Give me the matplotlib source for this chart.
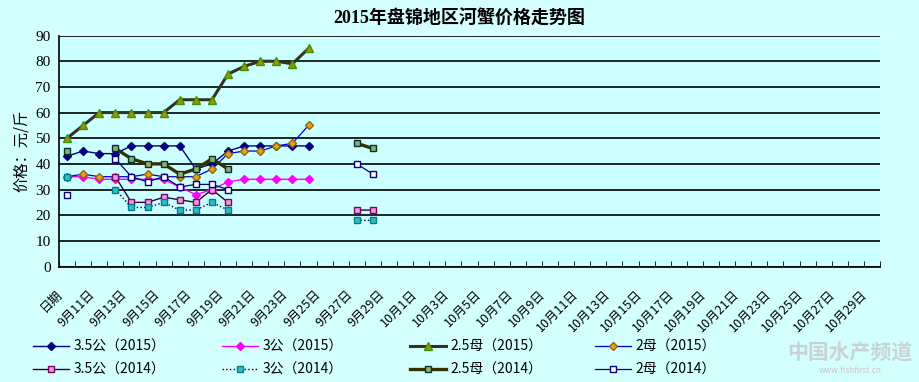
import numpy as np
import matplotlib
matplotlib.use("Agg")
import matplotlib.pyplot as plt
import matplotlib.transforms as mtransforms
from matplotlib.lines import Line2D

plt.rcParams['font.family'] = ['Noto Sans CJK SC', 'DejaVu Sans']

# categories: header cell + daily dates
categories = ['日期'] + [f'9月{d}日' for d in range(10, 31)] + [f'10月{d}日' for d in range(1, 30)]

# 2015 prices (yuan / jin), index 0..15
gong35_2015 = [43, 45, 44, 44, 47, 47, 47, 47, 38, 40, 45, 47, 47, 47, 47, 47]
gong3_2015 = [35, 35, 34, 34, 34, 34, 34, 31, 28, 30, 33, 34, 34, 34, 34, 34]
mu25_2015 = [50, 55, 60, 60, 60, 60, 60, 65, 65, 65, 75, 78, 80, 80, 79, 85]
mu2_2015 = [35, 36, 35, 35, 35, 36, 35, 35, 35, 38, 44, 45, 45, 47, 48, 55]

# 2014 prices, index 0..19 (None = no data)
n = None
gong35_2014 = [n, n, n, 35, 25, 25, 27, 26, 25, 30, 25, n, n, n, n, n, n, n, 22, 22]
gong3_2014 = [35, n, n, 30, 23, 23, 25, 22, 22, 25, 22, n, n, n, n, n, n, n, 18, 18]
mu25_2014 = [45, n, n, 46, 42, 40, 40, 36, 38, 42, 38, n, n, n, n, n, n, n, 48, 46]
mu2_2014 = [28, n, n, 42, 35, 33, 35, 31, 32, 32, 30, n, n, n, n, n, n, n, 40, 36]

labels = ['3.5公（2015）', '3公（2015）', '2.5母（2015）', '2母（2015）',
          '3.5公（2014）', '3公（2014）', '2.5母（2014）', '2母（2014）']


def arr(v):
    return np.array([np.nan if x is None else x for x in v], dtype=float)


bg = '#CCFFFF'
fig = plt.figure(figsize=(9.19, 3.82), dpi=100, facecolor='#D4FFFF')
ax = fig.add_axes([59 / 919, 1 - 266.5 / 382, 821 / 919, (266.5 - 35.6) / 382])
ax.set_facecolor(bg)

styles = [
    (gong35_2015, dict(color='#000080', lw=1.0, marker='D', ms=4, mfc='#000080', mec='#000080')),
    (gong3_2015, dict(color='#FF00FF', lw=1.0, marker='D', ms=4, mfc='#FF00FF', mec='#FF00FF')),
    (mu25_2015, dict(color='#333322', lw=2.2, marker='^', ms=5.5, mfc='#B8860B', mec='#339900')),
    (mu2_2015, dict(color='#0000CC', lw=0.9, marker='D', ms=4.5, mfc='#DAA520', mec='#996600')),
    (gong35_2014, dict(color='#330033', lw=1.0, marker='s', ms=4.5, mfc='#E6A0E0', mec='#800060')),
    (gong3_2014, dict(color='#000033', lw=1.0, ls=':', marker='s', ms=4.5, mfc='#33BBCC', mec='#008080')),
    (mu25_2014, dict(color='#333300', lw=2.4, marker='s', ms=4.5, mfc='#99AA66', mec='#003333')),
    (mu2_2014, dict(color='#000080', lw=0.9, marker='s', ms=4.5, mfc='white', mec='#000080')),
]

handles = []
for (vals, st), lab in zip(styles, labels):
    y = arr(vals)
    x = np.arange(len(y))
    ax.plot(x, y, zorder=3, **st)
    handles.append(Line2D([0], [0], **st))

ax.set_xlim(-0.5, len(categories) - 0.5)
ax.set_ylim(0, 90)
ax.set_yticks(range(0, 91, 10))
ax.yaxis.grid(True, color='black', lw=1.2)
ax.set_axisbelow(True)
for s in ['top', 'right']:
    ax.spines[s].set_visible(False)
for s in ['left', 'bottom']:
    ax.spines[s].set_color('black')
    ax.spines[s].set_linewidth(1.2)

ax.set_xticks(np.arange(-0.5, len(categories), 1), minor=True)
ax.tick_params(axis='x', which='minor', direction='in', length=4, color='black')
ax.set_xticks(range(0, len(categories), 2))
ax.set_xticklabels(categories[::2], rotation=45, ha='right', va='top', rotation_mode='anchor', fontsize=9)
ax.tick_params(axis='x', which='major', length=0, pad=8)
shift = mtransforms.ScaledTranslation(-11 / 100, -10 / 100, fig.dpi_scale_trans)
for t in ax.get_xticklabels():
    t.set_transform(t.get_transform() + shift)
ax.tick_params(axis='y', length=0, pad=6, labelsize=11)
for t in ax.get_yticklabels():
    t.set_fontfamily(['Liberation Serif', 'DejaVu Sans'])

ax.set_ylabel('价格：元/斤', fontsize=11, labelpad=4)
fig.text(0.5, 0.95, '2015年盘锦地区河蟹价格走势图', ha='center', va='center',
         fontsize=13, fontweight='bold', family=['Liberation Serif', 'Noto Sans CJK SC'])

# legend: four columns, two rows
col_x = [33, 222, 410, 595]
for c in range(4):
    fig.legend([handles[c], handles[c + 4]], [labels[c], labels[c + 4]],
               loc='upper left', bbox_to_anchor=(col_x[c] / 919, 1 - 340 / 382),
               frameon=False, fontsize=10, handlelength=2.6, handletextpad=0.3,
               labelspacing=0.65, borderaxespad=0, borderpad=0)

# watermark
fig.text(0.925, 0.075, '中国水产频道', ha='center', va='center', fontsize=15,
         color='#C8C8C8', fontweight='bold', alpha=0.8)
fig.text(0.925, 0.03, 'www.fishfirst.cn', ha='center', va='center', fontsize=6,
         color='#C8C8C8')

fig.savefig('out.png', dpi=100, facecolor=fig.get_facecolor())
